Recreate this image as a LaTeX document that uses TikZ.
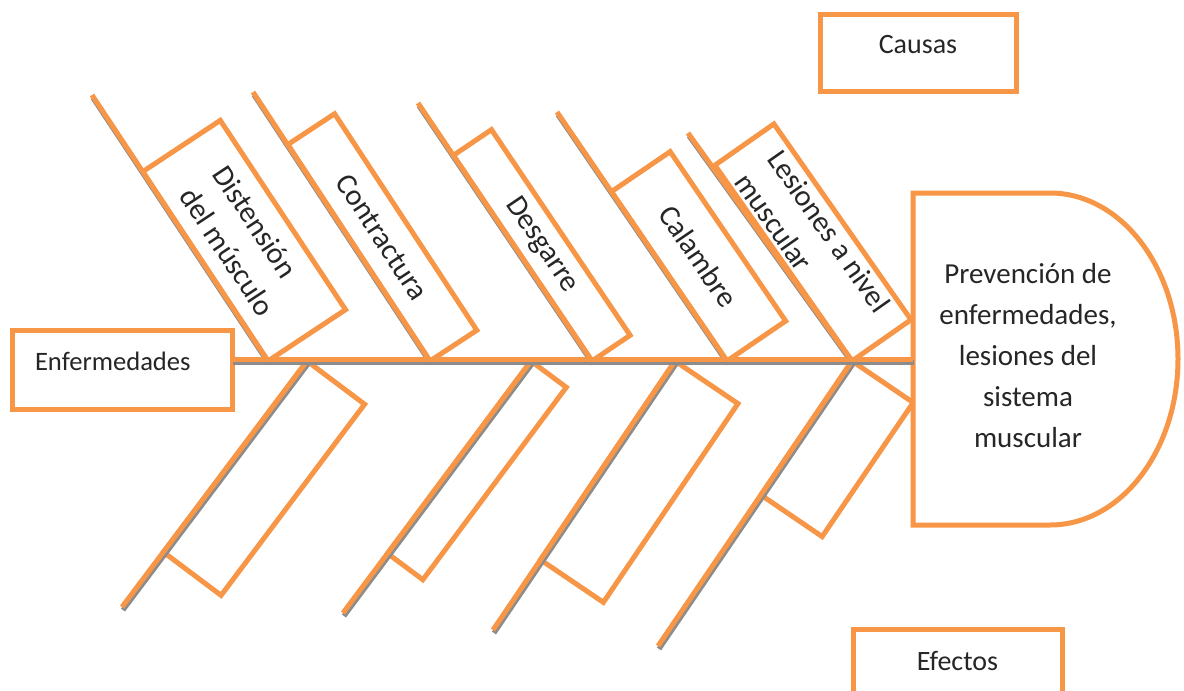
\documentclass[tikz,border=0pt]{standalone}
\usepackage{fontspec}
\setmainfont{Carlito}
\usetikzlibrary{calc}

\definecolor{fishorange}{HTML}{F79646}
\definecolor{txtgray}{HTML}{262626}

\begin{document}
\begin{tikzpicture}[
  x=0.5pt, y=-0.5pt,
  every node/.style={text=txtgray},
  box/.style={draw=fishorange, line width=2.5pt, fill=white, inner sep=0pt, outer sep=0pt, align=center},
  tagbox/.style={box, anchor=north west, font=\fontsize{14}{16}\selectfont, text height=9pt, text depth=8pt},
  cause/.style={box, anchor=south east, font=\fontsize{15}{20}\selectfont},
  effect/.style={box, anchor=north east},
  bone/.style={draw=fishorange, line width=2.5pt,
    preaction={draw=black!45, line width=2.5pt, transform canvas={shift={(0.5pt,-1.5pt)}}}}
]
  \fill[white] (0,0) rectangle (1184,691);
  \useasboundingbox (0,0) rectangle (1184,691);

  % junctions on the spine and free ends of the bones
  \coordinate (j1) at (268,361);
  \coordinate (j2) at (430,361);
  \coordinate (j3) at (592,361);
  \coordinate (j4) at (727,361);
  \coordinate (j5) at (852,361);
  \coordinate (s1) at (92,95);
  \coordinate (s2) at (253,92);
  \coordinate (s3) at (418,103);
  \coordinate (s4) at (557,112);
  \coordinate (s5) at (688,133);
  \coordinate (k1) at (307,361);
  \coordinate (k2) at (531,361);
  \coordinate (k3) at (675,361);
  \coordinate (k4) at (852,361);
  \coordinate (e1) at (122,607);
  \coordinate (e2) at (343,613);
  \coordinate (e3) at (493,630);
  \coordinate (e4) at (658,646);

  % labels
  \node[tagbox, font=\fontsize{13.3}{16}\selectfont, align=left, text width=87pt, inner xsep=11.5pt, minimum width=110pt, minimum height=39.5pt] (enf) at (12,330) {Enfermedades};
  \node[tagbox, minimum width=98pt, minimum height=38.5pt] (causas) at (820,14) {Causas};
  \node[tagbox, minimum width=104.5pt, minimum height=40pt] (efectos) at (853,629) {Efectos};

  % causes
  \node[cause, align=left, rotate=-56.5, minimum width=113.5pt, minimum height=46.5pt] (c1) at (j1) {Distensión\\del músculo};
  \node[cause, rotate=-56.7, minimum width=129.5pt, minimum height=28pt] (c2) at (j2) {Contractura};
  \node[cause, rotate=-56, minimum width=124pt, minimum height=23pt] (c3) at (j3) {Desgarre};
  \node[cause, rotate=-55.7, minimum width=102.5pt, minimum height=35.5pt] (c4) at (j4) {Calambre};
  \node[cause, align=left, rotate=-55, minimum width=119.5pt, minimum height=36pt] (c5) at (j5) {Lesiones a nivel\\muscular};

  % effects
  \node[effect, rotate=53.1, minimum width=119.5pt, minimum height=36pt] (f1) at (k1) {};
  \node[effect, rotate=53.3, minimum width=120pt, minimum height=22pt] (f2) at (k2) {};
  \node[effect, rotate=55.9, minimum width=120pt, minimum height=38pt] (f3) at (k3) {};
  \node[effect, rotate=55.8, minimum width=81pt, minimum height=37pt] (f4) at (k4) {};

  % head
  \node[inner sep=0pt, outer sep=0pt, anchor=north west, minimum width=132.5pt, minimum height=166pt] (head) at (913,193) {};
  \draw[fishorange, line width=2.5pt, fill=white] (head.north west) -- ++(68.5pt,0)
    arc[start angle=90, end angle=-90, x radius=64pt, y radius=83pt] -- (head.south west) -- cycle;
  \node[align=center, font=\fontsize{14.5}{20.5}\selectfont] (headtxt) at (1028,356) {Prevención de\\enfermedades,\\lesiones del\\sistema\\muscular};

  % bones
  \draw[bone] (s1) -- (j1);
  \draw[bone] (s2) -- (j2);
  \draw[bone] (s3) -- (j3);
  \draw[bone] (s4) -- (j4);
  \draw[bone] (s5) -- (j5);
  \draw[bone] (k1) -- (e1);
  \draw[bone] (k2) -- (e2);
  \draw[bone] (k3) -- (e3);
  \draw[bone] (k4) -- (e4);
  \draw[bone] (enf.east |- head.west) -- (head.west);
\end{tikzpicture}
\end{document}
